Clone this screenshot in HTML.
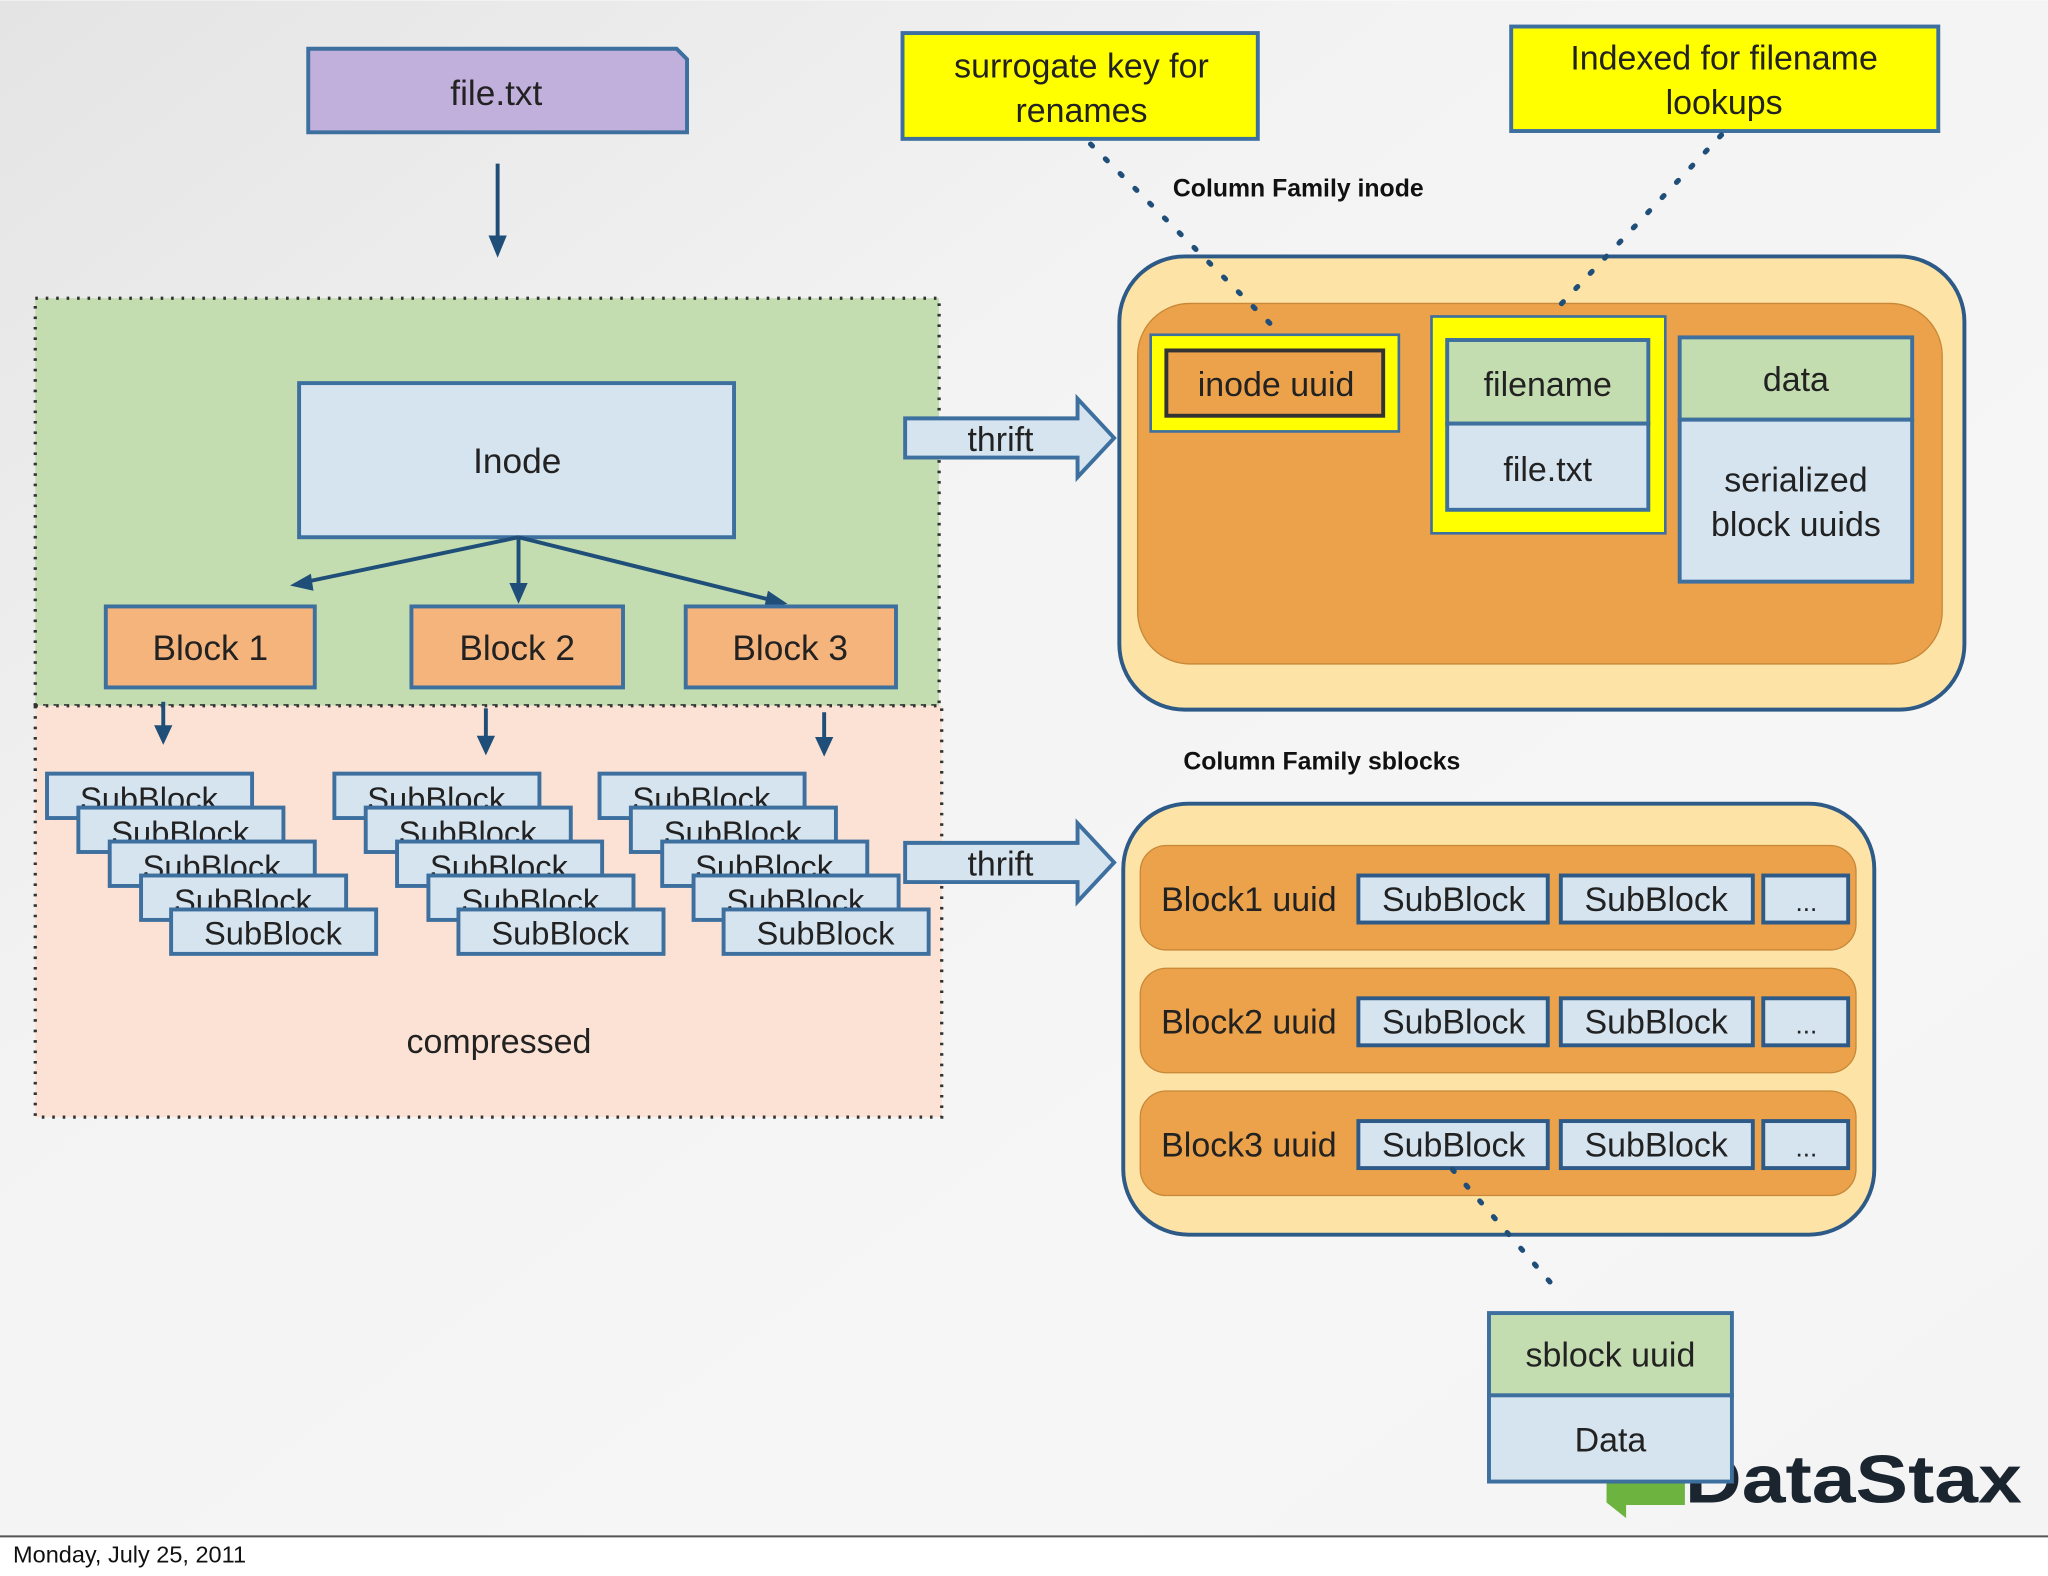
<!DOCTYPE html>
<html><head><meta charset="utf-8"><style>html,body{margin:0;padding:0;background:#fff}svg{display:block}</style></head>
<body>
<svg width="2048" height="1576" viewBox="0 0 1568 1206" xmlns="http://www.w3.org/2000/svg" font-family="Liberation Sans, sans-serif">
<defs>
<linearGradient id="bg" x1="0" y1="0" x2="1" y2="1">
<stop offset="0" stop-color="#e4e4e4"/><stop offset="0.35" stop-color="#f3f3f3"/><stop offset="0.7" stop-color="#f6f6f6"/><stop offset="1" stop-color="#f4f4f4"/>
</linearGradient>
</defs>
<rect x="0" y="0" width="1568" height="1176" fill="url(#bg)"/>
<line x1="0" y1="1176" x2="1568" y2="1176" stroke="#555" stroke-width="1.5"/>
<text x="10" y="1196" font-size="18" fill="#111">Monday, July 25, 2011</text>

<path d="M236,37 H518 L526,45 V101 H236 Z" fill="#c2b0dc" stroke="#3d6f9f" stroke-width="3"/>
<text x="380" y="80" font-size="27" text-anchor="middle" fill="#222">file.txt</text>
<line x1="381" y1="125" x2="381" y2="185" stroke="#1f4e79" stroke-width="3"/>
<path d="M374,180 L388,180 L381,197 Z" fill="#1f4e79"/>

<rect x="27" y="228" width="692" height="312" fill="#c3ddb0" stroke="#333" stroke-width="2.5" stroke-dasharray="2,6"/>
<rect x="27" y="540" width="694" height="315" fill="#fbe2d4" stroke="#333" stroke-width="2.5" stroke-dasharray="2,6"/>

<rect x="229" y="293" width="333" height="118" fill="#d6e4f0" stroke="#3d6f9f" stroke-width="3"/>
<text x="396" y="362" font-size="27" text-anchor="middle" fill="#222">Inode</text>
<g stroke="#1f4e79" stroke-width="3">
<line x1="397" y1="411" x2="235" y2="445"/><line x1="397" y1="411" x2="397" y2="448"/><line x1="397" y1="411" x2="590" y2="459"/>
<line x1="125" y1="537" x2="125" y2="556"/><line x1="372" y1="542" x2="372" y2="565"/><line x1="631" y1="545" x2="631" y2="566"/>
</g>
<g fill="#1f4e79">
<path d="M222,448 L238,439 L240,452 Z"/><path d="M390,446 L404,446 L397,462 Z"/><path d="M603,462 L588,452 L585,465 Z"/>
<path d="M118,555 L132,555 L125,570 Z"/><path d="M365,563 L379,563 L372,578 Z"/><path d="M624,564 L638,564 L631,579 Z"/>
</g>
<g fill="#f5b47c" stroke="#3d6f9f" stroke-width="3">
<rect x="81" y="464" width="160" height="62"/><rect x="315" y="464" width="162" height="62"/><rect x="525" y="464" width="161" height="62"/>
</g>
<g font-size="27" text-anchor="middle" fill="#222">
<text x="161" y="505">Block 1</text><text x="396" y="505">Block 2</text><text x="605" y="505">Block 3</text>
</g>

<g fill="#d6e4f0" stroke="#3d6f9f" stroke-width="3" font-size="25" text-anchor="middle">
<g id="st">
<rect x="36" y="592" width="157" height="34"/><text x="114" y="620" fill="#222" stroke="none">SubBlock</text>
<rect x="60" y="618" width="157" height="34"/><text x="138" y="646" fill="#222" stroke="none">SubBlock</text>
<rect x="84" y="644" width="157" height="34"/><text x="162" y="672" fill="#222" stroke="none">SubBlock</text>
<rect x="108" y="670" width="157" height="34"/><text x="186" y="698" fill="#222" stroke="none">SubBlock</text>
<rect x="131" y="696" width="157" height="34"/><text x="209" y="723" fill="#222" stroke="none">SubBlock</text>
</g>
<use href="#st" x="220"/>
<use href="#st" x="423"/>
</g>
<text x="382" y="806" font-size="26" text-anchor="middle" fill="#222">compressed</text>

<g fill="#d6e4f0" stroke="#3d6f9f" stroke-width="3">
<path d="M693,320 H825 V305 L853,335 L825,365 V350 H693 Z"/>
<path d="M693,645 H825 V630 L853,660 L825,690 V675 H693 Z"/>
</g>
<text x="766" y="345" font-size="26" text-anchor="middle" fill="#222">thrift</text>
<text x="766" y="670" font-size="26" text-anchor="middle" fill="#222">thrift</text>

<rect x="691" y="25" width="272" height="81" fill="#ffff00" stroke="#3d6f9f" stroke-width="3"/>
<text x="828" y="59" font-size="26" text-anchor="middle" fill="#222">surrogate key for</text>
<text x="828" y="93" font-size="26" text-anchor="middle" fill="#222">renames</text>
<rect x="1157" y="20" width="327" height="80" fill="#ffff00" stroke="#3d6f9f" stroke-width="3"/>
<text x="1320" y="53" font-size="26" text-anchor="middle" fill="#222">Indexed for filename</text>
<text x="1320" y="87" font-size="26" text-anchor="middle" fill="#222">lookups</text>

<text x="898" y="150" font-size="19" fill="#111" font-weight="bold">Column Family inode</text>
<text x="906" y="589" font-size="19" fill="#111" font-weight="bold">Column Family sblocks</text>

<rect x="857" y="196" width="647" height="347" rx="50" fill="#fde4a6" stroke="#2e5a87" stroke-width="3"/>
<rect x="871" y="232" width="616" height="276" rx="40" fill="#eba24a" stroke="#c88838" stroke-width="1"/>
<rect x="881" y="256" width="190" height="74" fill="#ffff00" stroke="#3d6f9f" stroke-width="2"/>
<rect x="893" y="268" width="166" height="50" fill="#eba24a" stroke="#333" stroke-width="3"/>
<text x="977" y="303" font-size="26" text-anchor="middle" fill="#222">inode uuid</text>
<rect x="1096" y="242" width="179" height="166" fill="#ffff00" stroke="#3d6f9f" stroke-width="2"/>
<rect x="1108" y="260" width="154" height="64" fill="#c3ddb0" stroke="#3d6f9f" stroke-width="3"/>
<rect x="1108" y="324" width="154" height="66" fill="#d6e4f0" stroke="#3d6f9f" stroke-width="3"/>
<text x="1185" y="303" font-size="26" text-anchor="middle" fill="#222">filename</text>
<text x="1185" y="368" font-size="26" text-anchor="middle" fill="#222">file.txt</text>
<rect x="1286" y="258" width="178" height="63" fill="#c3ddb0" stroke="#3d6f9f" stroke-width="3"/>
<rect x="1286" y="321" width="178" height="124" fill="#d6e4f0" stroke="#3d6f9f" stroke-width="3"/>
<text x="1375" y="299" font-size="26" text-anchor="middle" fill="#222">data</text>
<text x="1375" y="376" font-size="26" text-anchor="middle" fill="#222">serialized</text>
<text x="1375" y="410" font-size="26" text-anchor="middle" fill="#222">block uuids</text>

<rect x="860" y="615" width="575" height="330" rx="50" fill="#fde4a6" stroke="#2e5a87" stroke-width="3"/>
<g id="row">
<rect x="873" y="647" width="548" height="80" rx="20" fill="#eba24a" stroke="#c88838" stroke-width="1"/>
<g fill="#d6e4f0" stroke="#2e5a87" stroke-width="3">
<rect x="1040" y="670" width="145" height="36"/><rect x="1195" y="670" width="147" height="36"/><rect x="1350" y="670" width="65" height="36"/>
</g>
<g font-size="26" text-anchor="middle" fill="#222">
<text x="1113" y="697">SubBlock</text><text x="1268" y="697">SubBlock</text><text x="1383" y="697" font-size="20">...</text>
</g>
</g>
<use href="#row" y="94"/>
<use href="#row" y="188"/>
<g font-size="26" fill="#222">
<text x="889" y="697">Block1 uuid</text><text x="889" y="791">Block2 uuid</text><text x="889" y="885">Block3 uuid</text>
</g>

<g stroke="#1f4e79" stroke-width="4" stroke-dasharray="2,14" stroke-linecap="round">
<line x1="835" y1="110" x2="975" y2="250"/>
<line x1="1318" y1="103" x2="1190" y2="238"/>
<line x1="1112" y1="895" x2="1190" y2="985"/>
</g>

<path d="M1230,1130 H1290 V1152 H1245 V1162 L1230,1150 Z" fill="#6cb33f"/>
<text x="1290" y="1150" font-size="52" font-weight="bold" fill="#1a2530" textLength="258" lengthAdjust="spacingAndGlyphs">DataStax</text>

<rect x="1140" y="1005" width="186" height="63" fill="#c3ddb0" stroke="#3d6f9f" stroke-width="3"/>
<rect x="1140" y="1068" width="186" height="66" fill="#d6e4f0" stroke="#3d6f9f" stroke-width="3"/>
<text x="1233" y="1046" font-size="26" text-anchor="middle" fill="#222">sblock uuid</text>
<text x="1233" y="1111" font-size="26" text-anchor="middle" fill="#222">Data</text>
</svg>
</body></html>
